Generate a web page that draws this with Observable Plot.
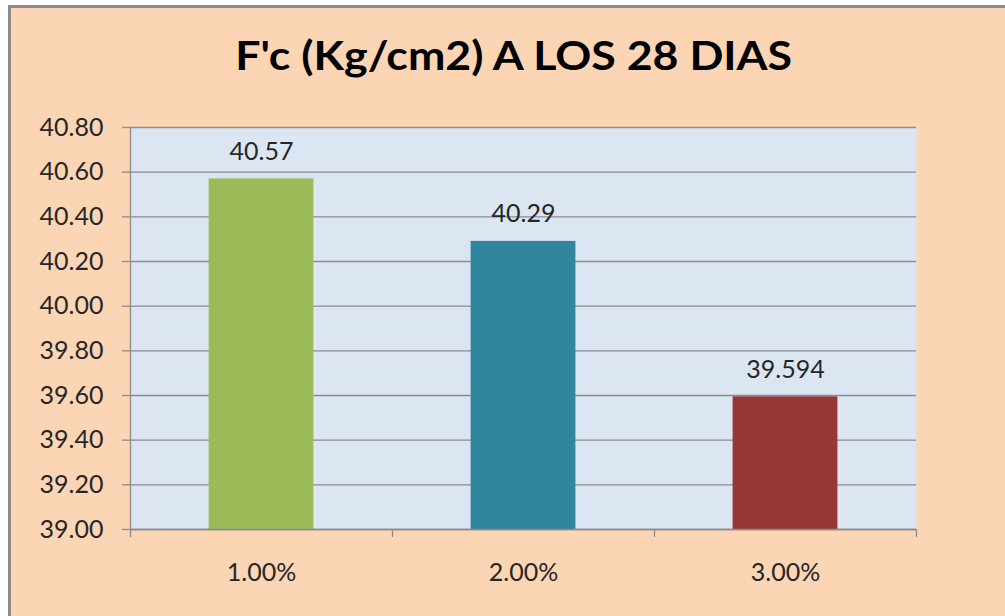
<!DOCTYPE html>
<html>
<head>
<meta charset="utf-8">
<script src="https://cdn.jsdelivr.net/npm/d3@7"></script>
<script src="https://cdn.jsdelivr.net/npm/@observablehq/plot@0.6"></script>
<style>
  html, body { margin: 0; padding: 0; background: #ffffff; overflow: hidden; }
  #page { position: relative; width: 1005px; height: 616px; overflow: hidden; }
  #panel {
    position: absolute; left: 8px; top: 5px; width: 1010px; height: 620px;
    background: #FCD5B5;
    border-left: 3px solid #8a8a8a; border-top: 3px solid #8a8a8a;
    box-sizing: border-box;
  }
  #title {
    position: absolute; left: 0; top: 34px; width: 1027px; text-align: center;
    font-family: Lato, "Open Sans", sans-serif; font-weight: 700; font-size: 41px;
    color: #000; white-space: nowrap; line-height: 1;
  }
  #title span { display: inline-block; transform-origin: center; }
  #chart { position: absolute; left: 0; top: 100px; }
</style>
</head>
<body>
<div id="page">
  <div id="panel"></div>
  <div id="title"><span>F'c (Kg/cm2) A LOS 28 DIAS</span></div>
  <div id="chart"></div>
</div>
<script>
// Compressive strength at 28 days by additive percentage
const categories = ["1.00%", "2.00%", "3.00%"];
const values = [40.57, 40.29, 39.594];
const valueLabels = ["40.57", "40.29", "39.594"];
const barColors = ["#9BBB59", "#31859C", "#953735"];
const yTicks = [39.0, 39.2, 39.4, 39.6, 39.8, 40.0, 40.2, 40.4, 40.6, 40.8];

const rows = categories.map((c, i) => ({
  category: c, index: i, value: values[i], label: valueLabels[i], color: barColors[i]
}));

const gray = "#8c8c8c";
const textColor = "#262626";
const fontSize = 25;

const chart = Plot.plot({
  width: 1005,
  height: 516,
  marginTop: 27,
  marginLeft: 130,
  marginRight: 89,
  marginBottom: 87,
  style: { background: "transparent", fontFamily: "Lato, 'Open Sans', sans-serif", fontSize: `${fontSize}px`, color: textColor },
  x: { type: "linear", domain: [0, categories.length], axis: null },
  y: { domain: [39, 40.8], axis: null },
  marks: [
    Plot.frame({ fill: "#DCE6F2", stroke: null }),
    Plot.gridY(yTicks, { stroke: gray, strokeOpacity: 1, strokeWidth: 1.3 }),
    Plot.rectY(rows, {
      x1: d => d.index + 0.3,
      x2: d => d.index + 0.7,
      y1: 39,
      y2: "value",
      fill: "color"
    }),
    Plot.text(rows, {
      x: d => d.index + 0.5,
      y: "value",
      text: "label",
      lineAnchor: "bottom",
      dy: -19,
      fill: textColor,
      fontSize
    }),
    Plot.ruleX([0], { stroke: gray, strokeWidth: 1.3 }),
    Plot.ruleY([39], { stroke: gray, strokeWidth: 1.3 }),
    Plot.axisY({
      ticks: yTicks,
      tickSize: 8,
      tickPadding: 19,
      tickFormat: d => d.toFixed(2),
      stroke: gray,
      strokeWidth: 1.3,
      fill: textColor,
      label: null
    }),
    Plot.axisX({
      ticks: d3.range(categories.length + 1),
      tickSize: 8,
      tickFormat: () => "",
      stroke: gray,
      strokeWidth: 1.3,
      label: null
    }),
    Plot.axisX({
      ticks: categories.map((c, i) => i + 0.5),
      tickSize: 0,
      tickPadding: 34,
      tickFormat: d => categories[Math.floor(d)],
      fill: textColor,
      label: null
    })
  ]
});

document.getElementById("chart").appendChild(chart);

// Fit the bold heading to its intended span
const span = document.querySelector("#title span");
const w = span.getBoundingClientRect().width;
const target = 557;
if (w > 0) span.style.transform = `scaleX(${target / w})`;
</script>
</body>
</html>
